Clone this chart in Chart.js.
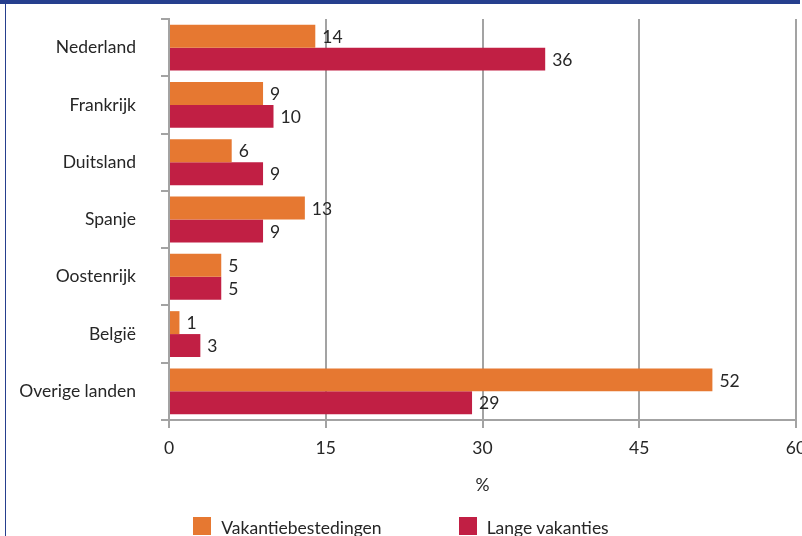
<!DOCTYPE html>
<html lang="nl">
<head>
<meta charset="utf-8">
<script src="https://cdn.jsdelivr.net/npm/chart.js@4"></script>
<style>
  html, body { margin: 0; padding: 0; background: #fff; overflow: hidden; }
  #wrap { position: relative; width: 802px; height: 536px; }
  #wrap canvas { position: absolute; left: 0; top: 0; }
  .frame-top { position: absolute; left: 0; top: 0; width: 800px; height: 4px; background: #263f8e; }
  .frame-left { position: absolute; left: 5px; top: 0; width: 1px; height: 536px; background: #263f8e; }
  #legend { position: absolute; left: 0; top: 517px; width: 802px; display: flex; justify-content: center; gap: 77px;
            font-family: Lato, sans-serif; font-size: 17.5px; color: #262626; }
  .legend-item { display: flex; align-items: flex-start; }
  .legend-color { width: 18px; height: 18px; margin-right: 10px; }
  .legend-label { line-height: 18px; margin-top: 2px; }
</style>
</head>
<body>
<div id="wrap">
  <canvas id="chart" width="802" height="536"></canvas>
  <div class="frame-top"></div>
  <div class="frame-left"></div>
  <div id="legend"></div>
</div>
<script>
// Gegevens
const landen = ['Nederland', 'Frankrijk', 'Duitsland', 'Spanje', 'Oostenrijk', 'België', 'Overige landen'];
const vakantiebestedingen = [14, 9, 6, 13, 5, 1, 52];
const langeVakanties = [36, 10, 9, 9, 5, 3, 29];
const xTicks = [0, 15, 30, 45, 60];

const kleuren = {
  oranje: '#e67831',
  rood: '#c11f44',
  grid: '#a3a3a3',
  tekst: '#262626'
};
const font = "Lato, sans-serif";
const fontSize = 17.5;

// Waarden naast de balken
const waardeLabels = {
  id: 'waardeLabels',
  afterDatasetsDraw(chart) {
    const ctx = chart.ctx;
    ctx.save();
    ctx.font = fontSize + 'px ' + font;
    ctx.fillStyle = kleuren.tekst;
    ctx.textBaseline = 'middle';
    ctx.textAlign = 'left';
    chart.data.datasets.forEach((ds, i) => {
      chart.getDatasetMeta(i).data.forEach((bar, j) => {
        ctx.fillText(ds.data[j], bar.x + 7, bar.y + 1);
      });
    });
    ctx.restore();
  }
};

const chart = new Chart(document.getElementById('chart'), {
  type: 'bar',
  data: {
    labels: landen,
    datasets: [
      { label: 'Vakantiebestedingen', data: vakantiebestedingen, backgroundColor: kleuren.oranje },
      { label: 'Lange vakanties', data: langeVakanties, backgroundColor: kleuren.rood }
    ]
  },
  options: {
    indexAxis: 'y',
    responsive: false,
    animation: false,
    categoryPercentage: 0.8,
    barPercentage: 1.0,
    layout: { padding: { top: 19, right: 6, left: 0, bottom: 0 } },
    plugins: {
      legend: { display: false },
      tooltip: { enabled: false }
    },
    scales: {
      x: {
        min: 0,
        max: 60,
        afterBuildTicks(scale) {
          scale.ticks = xTicks.map(v => ({ value: v }));
        },
        afterFit(scale) {
          scale.paddingLeft = 0;
          scale.paddingRight = 0;
          scale.height = 116;
        },
        grid: { color: kleuren.grid, lineWidth: 2, tickLength: 8, drawOnChartArea: true },
        border: { color: kleuren.grid, width: 2 },
        ticks: { color: kleuren.tekst, font: { family: font, size: fontSize }, padding: 10, maxRotation: 0 },
        title: {
          display: true,
          text: '%',
          color: kleuren.tekst,
          font: { family: font, size: fontSize },
          padding: { top: 0, bottom: 40 }
        }
      },
      y: {
        afterFit(scale) {
          scale.width = 169;
          scale.paddingTop = 0;
          scale.paddingBottom = 0;
        },
        grid: { offset: true, drawOnChartArea: false, color: kleuren.grid, lineWidth: 2, tickLength: 8 },
        border: { color: kleuren.grid, width: 2 },
        ticks: { color: kleuren.tekst, font: { family: font, size: fontSize }, padding: 25 }
      }
    }
  },
  plugins: [waardeLabels]
});

// Legenda
function maakLegenda(containerId, chart) {
  const container = document.getElementById(containerId);
  chart.data.datasets.forEach(ds => {
    const item = document.createElement('div');
    item.className = 'legend-item';
    item.innerHTML = `
      <div class="legend-color" style="background-color: ${ds.backgroundColor}"></div>
      <span class="legend-label">${ds.label}</span>
    `;
    container.appendChild(item);
  });
}
maakLegenda('legend', chart);
</script>
</body>
</html>
